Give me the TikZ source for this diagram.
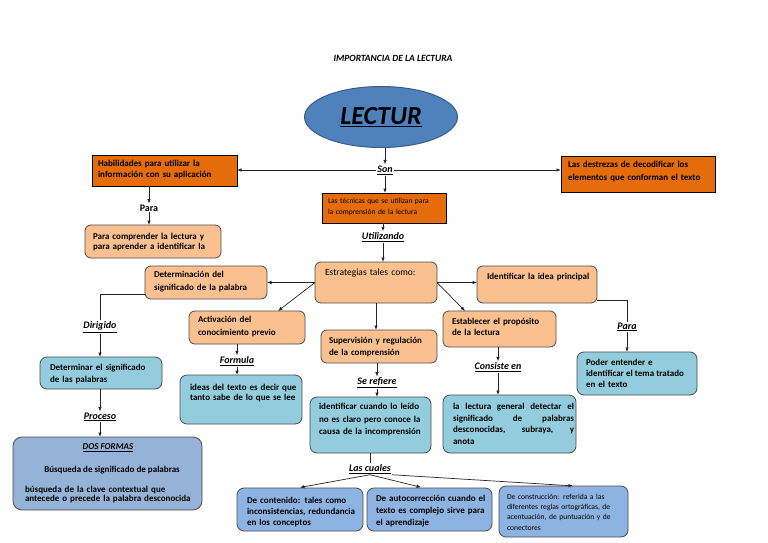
\documentclass[tikz,border=0pt]{standalone}
\usepackage{fontspec}
\setmainfont{Carlito}
\usetikzlibrary{arrows.meta,shapes.geometric}
\definecolor{dorg}{HTML}{E46C0A}
\definecolor{lorg}{HTML}{FAC090}
\definecolor{aqua}{HTML}{93CDDD}
\definecolor{sblue}{HTML}{95B3D7}
\definecolor{bblue}{HTML}{8DB3E2}
\definecolor{ellfill}{HTML}{4F81BD}
\definecolor{elldraw}{HTML}{385D8A}
\newcommand\myfs[2]{\fontsize{#1}{#2}\selectfont}
\newcommand\spreadline[2]{\leavevmode\hbox to #1{#2}}
\tikzset{
 arr/.style={draw=black!85, line width=0.7pt, -{Latex[length=4.5pt,width=3.5pt]}},
 ln/.style={draw=black!85, line width=0.7pt},
 basebox/.style={anchor=north west, inner sep=0pt, outer sep=0pt, line width=0.8pt},
 dbox/.style={basebox, draw=black, fill=dorg},
 lbox/.style={basebox, draw=black!70, fill=lorg, rounded corners=6pt},
 abox/.style={basebox, draw=black!70, fill=aqua, rounded corners=7pt},
 sbox/.style={basebox, draw=black!70, fill=sblue, rounded corners=9pt},
 bbox/.style={basebox, draw=black!70, fill=bblue, rounded corners=7pt},
 tx/.style={anchor=north west, inner sep=0pt, outer sep=0pt, align=left, text width=#1},
 tx/.default=130pt,
 lab/.style={inner sep=1pt, font=\myfs{10}{12}\bfseries\itshape},
}
\begin{document}
\begin{tikzpicture}[x=1pt,y=-1pt]
\useasboundingbox (0,0) rectangle (768,543);
\fill[white] (0,0) rectangle (768,543);

\node[font=\myfs{9.5}{11}\bfseries\itshape] (title) at (393,58) {IMPORTANCIA DE LA LECTURA};

\node[ellipse, draw=elldraw, line width=1pt, fill=ellfill, minimum width=153pt, minimum height=61pt, inner sep=0pt] (lec) at (381,117) {\myfs{26}{28}\bfseries\itshape\underline{LECTUR}};

% boxes
\node[dbox, minimum width=145pt, minimum height=31pt] (hab) at (92,155) {};
\node[dbox, minimum width=154pt, minimum height=36pt] (des) at (561,156) {};
\node[dbox, minimum width=124pt, minimum height=30pt] (tec) at (322,193) {};
\node[lbox, minimum width=136pt, minimum height=33pt] (pc) at (85,225) {};
\node[lbox, minimum width=122pt, minimum height=41pt] (est) at (315,262) {};
\node[lbox, minimum width=120pt, minimum height=37pt] (ide) at (477,266) {};
\node[lbox, minimum width=122pt, minimum height=33pt] (det) at (145,266) {};
\node[lbox, minimum width=116pt, minimum height=33pt] (act) at (189,311) {};
\node[lbox, minimum width=116pt, minimum height=33pt] (sup) at (321,330) {};
\node[lbox, minimum width=113pt, minimum height=36pt] (esta) at (443,311) {};
\node[abox, minimum width=122pt, minimum height=32pt] (detm) at (40,357) {};
\node[abox, minimum width=122pt, minimum height=49pt] (ideas) at (180,375) {};
\node[abox, minimum width=121pt, minimum height=56pt] (iden) at (310,397) {};
\node[abox, minimum width=133pt, minimum height=58pt] (lal) at (443,395) {};
\node[abox, minimum width=120pt, minimum height=43pt] (pod) at (577,352) {};
\node[sbox, minimum width=189pt, minimum height=73pt] (dos) at (13,437) {};
\node[bbox, minimum width=126pt, minimum height=43pt] (b1) at (237,488) {};
\node[bbox, minimum width=125pt, minimum height=43pt] (b2) at (367,488) {};
\node[bbox, minimum width=129pt, minimum height=51pt] (b3) at (499,486) {};

% texts
\node[tx=138pt, font=\myfs{9}{11}\bfseries] (habt) at (98,160) {Habilidades para utilizar la\\información con su aplicación};
\node[tx=145pt, font=\myfs{9}{13}\bfseries] (dest) at (568,161) {Las destrezas de decodificar los\\elementos que conforman el texto};
\node[tx=116pt, font=\myfs{7.5}{11}] (tect) at (328,198) {Las técnicas que se utilizan para\\la comprensión de la lectura};
\node[tx=128pt, font=\myfs{9}{10.5}\bfseries] (pct) at (93,233) {Para comprender la lectura y\\para aprender a identificar la};
\node[tx=115pt, font=\myfs{9.5}{12}] (estt) at (325,269) {Estrategias tales como:};
\node[tx=110pt, font=\myfs{9}{11}\bfseries] (idet) at (487,273) {Identificar la idea principal};
\node[tx=112pt, font=\myfs{9}{13}\bfseries] (dett) at (154,271) {Determinación del\\significado de la palabra};
\node[tx=105pt, font=\myfs{9}{13.5}\bfseries] (actt) at (198,316) {Activación del\\conocimiento previo};
\node[tx=105pt, font=\myfs{9}{12}\bfseries] (supt) at (329,337) {Supervisión y regulación\\de la comprensión};
\node[tx=105pt, font=\myfs{9}{11}\bfseries] (estat) at (452,318) {Establecer el propósito\\de la lectura};
\node[tx=110pt, font=\myfs{9}{12}\bfseries] (detmt) at (50,364) {Determinar el significado\\de las palabras};
\node[tx=110pt, font=\myfs{9}{10.5}\bfseries] (ideast) at (190,384) {ideas del texto es decir que\\tanto sabe de lo que se lee};
\node[tx=110pt, font=\myfs{9}{12.8}\bfseries] (ident) at (319,403) {identificar cuando lo leído\\no es claro pero conoce la\\causa de la incomprensión};
\node[tx=121pt, font=\myfs{9}{11.7}\bfseries] (lalt) at (453,403) {\spreadline{121pt}{la\hfill lectura\hfill general\hfill detectar\hfill el}\\\spreadline{121pt}{significado\hfill de\hfill palabras}\\\spreadline{121pt}{desconocidas,\hfill subraya,\hfill y}\\anota};
\node[tx=100pt, font=\myfs{9}{11}\bfseries] (podt) at (586,359) {Poder entender e\\\spreadline{98pt}{identificar\hfill el\hfill tema\hfill tratado}\\en el texto};
\node[font=\myfs{9}{10}\bfseries\itshape, inner sep=0pt] (dost) at (108,448) {\underline{DOS FORMAS}};
\node[font=\myfs{9}{10}\bfseries, inner sep=0pt] (busq) at (112,470) {Búsqueda de significado de palabras};
\node[tx=180pt, font=\myfs{9}{9.5}\bfseries] (busq2) at (25,486) {búsqueda de la clave contextual que\\antecede o precede la palabra desconocida};
\node[tx=115pt, font=\myfs{9}{11}\bfseries] (b1t) at (247,497) {De contenido: tales como\\inconsistencias, redundancia\\en los conceptos};
\node[tx=115pt, font=\myfs{9}{12}\bfseries] (b2t) at (376,495) {De autocorrección cuando el\\texto es complejo sirve para\\el aprendizaje};
\node[tx=120pt, font=\myfs{7.6}{10.3}] (b3t) at (507,494) {De construcción: referida a las\\diferentes reglas ortográficas, de\\acentuación, de puntuación y de\\conectores};

% labels
\node[lab] (son) at (385,170) {\underline{Son}};
\node[lab, font=\myfs{10}{12}\bfseries] (para1) at (149,208) {Para};
\node[lab] (util) at (383,237) {\underline{Utilizando}};
\node[lab] (dir) at (100,327) {\underline{Dirigido}};
\node[lab] (proc) at (100,417) {\underline{Proceso}};
\node[lab] (form) at (237,361) {\underline{Formula}};
\node[lab] (seref) at (377,383) {\underline{Se refiere}};
\node[lab] (cons) at (498,367) {\underline{Consiste en}};
\node[lab] (para2) at (627,327) {\underline{Para}};
\node[lab] (lasc) at (370,469) {\underline{Las cuales}};

% connectors
\draw[arr] (lec.south -| son) -- (son.north);
\draw[arr] (son.west) -- (hab.east |- son.west);
\draw[arr] (son.east) -- (des.west |- son.east);
\draw[arr] (son.south) -- (tec.north -| son.south);
\draw[arr] (para1.north |- hab.south) -- (para1.north);
\draw[arr] (para1.south) -- (para1.south |- pc.north);
\draw[arr] (tec.south -| util) -- (util.north);
\draw[arr] (util.south) -- (util.south |- est.north);
\draw[arr] (est.east) -- (est.east -| ide.west);
\draw[arr] (est.east) -- ([xshift=22pt]esta.north west);
\draw[arr] (est.south) -- (est.south |- sup.north);
\draw[arr] (est.west) -- (est.west -| det.east);
\draw[arr] (est.west) -- ([xshift=-27pt]act.north east);
\draw[ln] ([yshift=-12pt]det.west) -| (dir.north);
\draw[arr] (dir.south) -- (dir.south |- detm.north);
\draw[arr] (proc.north |- detm.south) -- (proc.north);
\draw[arr] (proc.south) -- (proc.south |- dos.north);
\draw[arr] (form.north |- act.south) -- (form.north);
\draw[arr] (form.south) -- (form.south |- ideas.north);
\draw[arr] (seref.north |- sup.south) -- (seref.north);
\draw[arr] (seref.south) -- (seref.south |- iden.north);
\draw[arr] (cons.north |- esta.south) -- (cons.north);
\draw[arr] (cons.south) -- (cons.south |- lal.north);
\draw[ln] ([yshift=3pt]ide.south east) -| (para2.north);
\draw[arr] (para2.south) -- (para2.south |- pod.north);
\draw[ln] (iden.south) -- (iden.south |- lasc.north);
\draw[arr, shorten >=3pt] (lasc.south) -- ([xshift=60pt]b1.north west);
\draw[arr, shorten >=3pt] (lasc.south) -- ([xshift=57pt]b2.north west);
\draw[arr, shorten >=2pt] (lasc.south east) -- ([xshift=76pt]b3.north west);
\end{tikzpicture}
\end{document}
